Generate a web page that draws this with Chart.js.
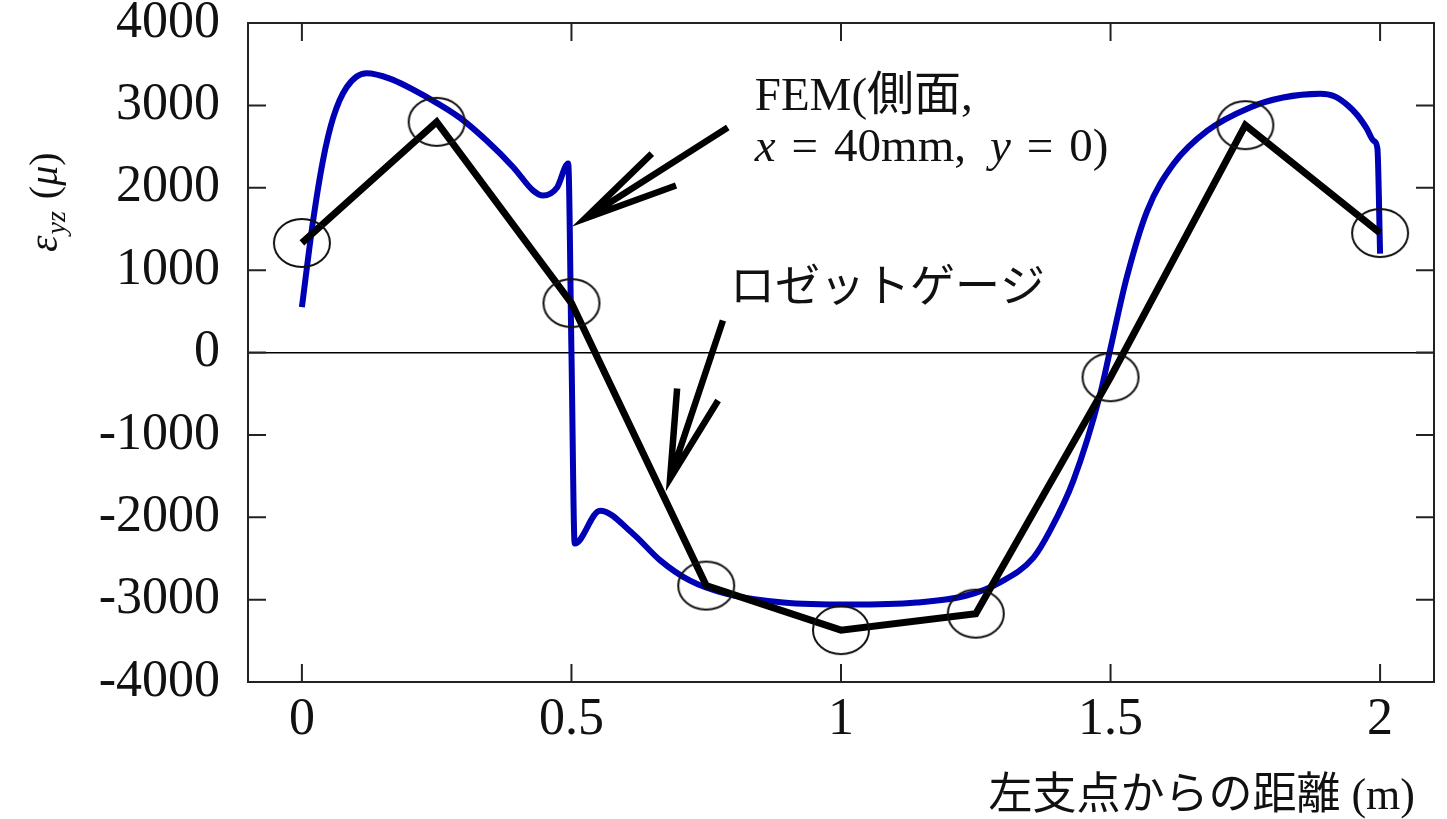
<!DOCTYPE html>
<html>
<head>
<meta charset="utf-8">
<script src="https://cdn.jsdelivr.net/npm/chart.js@4.4.1/dist/chart.umd.min.js"></script>
<style>
  html, body { margin: 0; padding: 0; background: #fff; }
  canvas { display: block; }
</style>
</head>
<body>
<canvas id="chart" width="1447" height="819"></canvas>
<script>
// ロゼットゲージ（測定値）
const gaugeX = [0, 0.25, 0.5, 0.75, 1.0, 1.25, 1.5, 1.75, 2.0];
const gaugeY = [1330, 2800, 600, -2830, -3370, -3170, -300, 2760, 1450];

// FEM（側面, x = 40mm, y = 0）
const femX = [0, 0.02, 0.039, 0.058, 0.083, 0.12, 0.163, 0.237, 0.293, 0.343, 0.392, 0.429, 0.447, 0.473, 0.494,
  0.5, 0.506, 0.553, 0.614, 0.664, 0.72, 0.788, 0.893, 1.017, 1.14, 1.233, 1.295, 1.357, 1.388, 1.431, 1.481,
  1.499, 1.53, 1.568, 1.617, 1.679, 1.759, 1.82, 1.889, 1.915, 1.94, 1.958, 1.975, 1.988, 1.995, 2.0];
const femY = [550, 1565, 2330, 2850, 3220, 3390, 3325, 3080, 2850, 2570, 2250, 1965, 1905, 2000, 2295,
  0, -2320, -1920, -2200, -2520, -2770, -2930, -3035, -3060, -3035, -2950, -2790, -2490, -2160, -1555, -500,
  24, 910, 1720, 2290, 2690, 2975, 3095, 3140, 3110, 3000, 2880, 2720, 2570, 2480, 1200];

// 目盛り
const xTicks = [0, 0.5, 1, 1.5, 2];
const yTicks = [-4000, -3000, -2000, -1000, 0, 1000, 2000, 3000, 4000];

// 矢印（データ座標）: [始点, 先端, 羽1, 羽2]
const femArrow = [[0.790, 2731], [0.525, 1626], [0.649, 2415], [0.694, 2027]];
const gaugeArrow = [[0.781, 388], [0.683, -1529], [0.696, -437], [0.772, -583]];

const SERIF = '"Liberation Serif", "Noto Sans CJK JP", serif';

function ellipseMarker() {
  const c = document.createElement('canvas');
  c.width = 60; c.height = 52;
  const g = c.getContext('2d');
  g.lineWidth = 2;
  g.strokeStyle = '#111';
  g.beginPath();
  g.ellipse(30, 26, 28, 24, 0, 0, Math.PI * 2);
  g.stroke();
  return c;
}

// runs: [文字列, フォント, 後ろの間隔]
function drawRuns(ctx, runs, x, y) {
  ctx.textBaseline = 'middle';
  ctx.textAlign = 'left';
  runs.forEach(r => {
    ctx.font = r[1];
    ctx.fillText(r[0], x, y);
    x += ctx.measureText(r[0]).width + (r[2] || 0);
  });
}

function noPad(s) {
  s.paddingTop = 0; s.paddingBottom = 0; s.paddingLeft = 0; s.paddingRight = 0;
}

const decor = {
  id: 'decor',
  afterDatasetsDraw(chart) {
    const { ctx, chartArea: a, scales: { x, y } } = chart;
    ctx.save();
    ctx.strokeStyle = '#222';
    ctx.lineWidth = 2;
    ctx.strokeRect(a.left, a.top, a.right - a.left, a.bottom - a.top);
    // 内向きの目盛り線
    const tl = 18;
    ctx.beginPath();
    xTicks.forEach(v => {
      const px = x.getPixelForValue(v);
      ctx.moveTo(px, a.bottom); ctx.lineTo(px, a.bottom - tl);
      ctx.moveTo(px, a.top); ctx.lineTo(px, a.top + tl);
    });
    yTicks.forEach(v => {
      const py = y.getPixelForValue(v);
      ctx.moveTo(a.left, py); ctx.lineTo(a.left + tl, py);
      ctx.moveTo(a.right, py); ctx.lineTo(a.right - tl, py);
    });
    ctx.stroke();

    // 矢印
    ctx.strokeStyle = '#000';
    ctx.lineWidth = 6.5;
    ctx.lineCap = 'butt';
    [femArrow, gaugeArrow].forEach(arr => {
      const p = arr.map(q => [x.getPixelForValue(q[0]), y.getPixelForValue(q[1])]);
      ctx.beginPath();
      ctx.moveTo(p[0][0], p[0][1]); ctx.lineTo(p[1][0], p[1][1]);
      ctx.moveTo(p[2][0], p[2][1]); ctx.lineTo(p[1][0], p[1][1]); ctx.lineTo(p[3][0], p[3][1]);
      ctx.stroke();
    });

    // 注記
    ctx.fillStyle = '#111';
    const f = '47px ' + SERIF;
    const fi = 'italic 47px ' + SERIF;
    drawRuns(ctx, [['FEM(側面,', f]], x.getPixelForValue(0.84), y.getPixelForValue(3095));
    drawRuns(ctx, [['x', fi, 16], ['=', f, 16], ['40mm,', f, 24], ['y', fi, 16], ['=', f, 16], ['0)', f]],
      x.getPixelForValue(0.84), y.getPixelForValue(2476));
    drawRuns(ctx, [['ロゼットゲージ', '45px ' + SERIF]], x.getPixelForValue(0.794), y.getPixelForValue(752));

    // 軸タイトル
    ctx.textAlign = 'right';
    ctx.textBaseline = 'middle';
    ctx.font = '44px ' + SERIF;
    ctx.fillText('左支点からの距離 (m)', 1415, 797);

    ctx.translate(45, 252);
    ctx.rotate(-Math.PI / 2);
    ctx.textAlign = 'left';
    ctx.textBaseline = 'alphabetic';
    let cx = 0;
    ctx.font = 'italic 42px ' + SERIF;
    ctx.fillText('ε', cx, 12); cx += ctx.measureText('ε').width + 1;
    ctx.font = 'italic 28px ' + SERIF;
    ctx.fillText('yz', cx, 20); cx += ctx.measureText('yz').width + 12;
    ctx.font = '40px ' + SERIF;
    ctx.fillText('(', cx, 12); cx += ctx.measureText('(').width;
    ctx.font = 'italic 40px ' + SERIF;
    ctx.fillText('μ', cx, 12); cx += ctx.measureText('μ').width;
    ctx.font = '40px ' + SERIF;
    ctx.fillText(')', cx, 12);
    ctx.restore();
  }
};

new Chart(document.getElementById('chart').getContext('2d'), {
  type: 'line',
  data: {
    datasets: [
      {
        label: 'ロゼットゲージ',
        data: gaugeX.map((v, i) => ({ x: v, y: gaugeY[i] })),
        borderColor: '#000',
        borderWidth: 7,
        tension: 0,
        pointStyle: ellipseMarker(),
        pointRadius: 26,
        pointHoverRadius: 26
      },
      {
        label: 'FEM(側面, x = 40mm, y = 0)',
        data: femX.map((v, i) => ({ x: v, y: femY[i] })),
        borderColor: '#0000b4',
        borderWidth: 6,
        cubicInterpolationMode: 'monotone',
        pointRadius: 0
      }
    ]
  },
  options: {
    responsive: false,
    animation: false,
    layout: { autoPadding: false, padding: { top: 23, right: 13, left: 0, bottom: 0 } },
    plugins: { legend: { display: false }, tooltip: { enabled: false } },
    scales: {
      x: {
        type: 'linear',
        min: -0.1,
        max: 2.1,
        afterFit: s => { s.height = 137; noPad(s); },
        afterBuildTicks: s => { s.ticks = xTicks.map(v => ({ value: v })); },
        grid: { display: false, drawTicks: false },
        border: { display: false },
        ticks: {
          padding: 7,
          color: '#111',
          font: { family: SERIF, size: 52 },
          callback: v => String(v)
        }
      },
      y: {
        min: -4000,
        max: 4000,
        afterFit: s => { s.width = 248; noPad(s); },
        afterBuildTicks: s => { s.ticks = yTicks.map(v => ({ value: v })); },
        grid: {
          drawTicks: false,
          lineWidth: 1.5,
          color: c => (c.tick && c.tick.value === 0 ? '#000' : 'rgba(0,0,0,0)')
        },
        border: { display: false },
        ticks: {
          padding: 28,
          color: '#111',
          font: { family: SERIF, size: 52 },
          callback: v => String(v)
        }
      }
    }
  },
  plugins: [decor]
});
</script>
</body>
</html>
